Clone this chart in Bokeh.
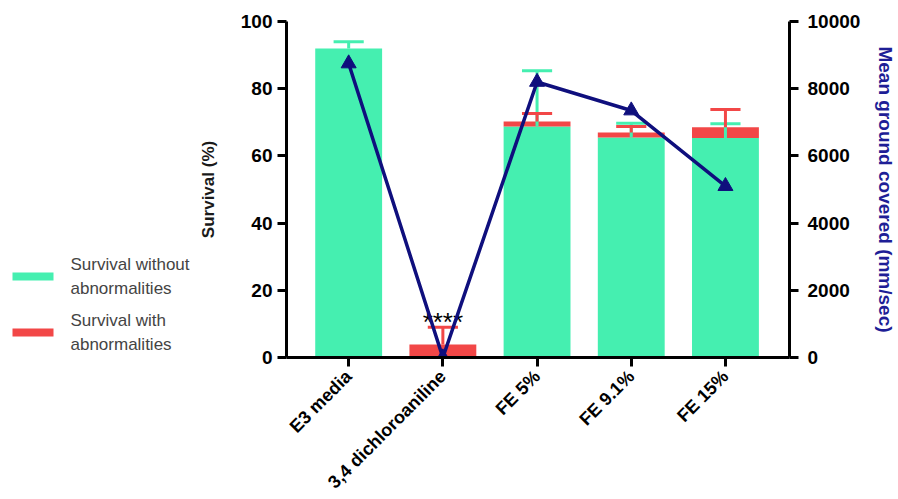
from bokeh.plotting import figure
from bokeh.layouts import row
from bokeh.models import Range1d, LinearAxis, FixedTicker, ColumnDataSource
from bokeh.core.properties import value
from bokeh.embed import file_html
from bokeh.resources import INLINE
import math

# ---- data ----
categories = ["E3 media", "3,4 dichloroaniline", "FE 5%", "FE 9.1%", "FE 15%"]
surv_normal = [92.0, 0.0, 68.75, 65.5, 65.3]      # Survival without abnormalities (%)
surv_normal_err = [2.0, 0.0, 16.6, 4.2, 4.3]
surv_abnormal = [0.0, 3.9, 1.5, 1.5, 3.2]         # Survival with abnormalities (%)
surv_abnormal_err = [0.0, 5.1, 2.4, 1.75, 5.3]
ground_covered = [8750, 0, 8200, 7350, 5100]      # Mean ground covered (mm/sec)
left_ticks = [0, 20, 40, 60, 80, 100]
right_ticks = [0, 2000, 4000, 6000, 8000, 10000]
significance = ["", "****", "", "", ""]
legend_labels = ["Survival without\nabnormalities", "Survival with\nabnormalities"]

GREEN = "#45EFB0"
RED = "#F24747"
NAVY = "#0F0F7D"
FONT = "Liberation Sans"

TOP, FRAME_H, BOTTOM = 21, 336, 141
LEG_W = 192

x = list(range(len(categories)))
abn_top = [a + b for a, b in zip(surv_normal, surv_abnormal)]

src = ColumnDataSource(dict(
    x=x, normal=surv_normal, abn_bottom=surv_normal, abn_top=abn_top,
    n_err_top=[v + e for v, e in zip(surv_normal, surv_normal_err)],
    a_err_top=[v + e for v, e in zip(abn_top, surv_abnormal_err)],
    cap_l=[i - 0.16 for i in x], cap_r=[i + 0.16 for i in x],
    ground=ground_covered,
))

p = figure(frame_width=503, frame_height=FRAME_H,
           x_range=Range1d(-0.66, 4.68), y_range=Range1d(0, 100),
           output_backend="svg", toolbar_location=None,
           min_border_left=286 - LEG_W, min_border_right=106,
           min_border_top=TOP, min_border_bottom=BOTTOM)
p.extra_y_ranges = {"y2": Range1d(0, 10000)}
p.grid.visible = False
p.outline_line_color = None

# bars
bw = 0.71
p.vbar(x="x", top="normal", bottom=0, width=bw, source=src,
       fill_color=GREEN, line_color=None)
p.vbar(x="x", top="abn_top", bottom="abn_bottom", width=bw, source=src,
       fill_color=RED, line_color=None)

# error bars (green from green top, red from stack top)
ng = [i for i, e in enumerate(surv_normal_err) if e > 0]
na = [i for i, e in enumerate(surv_abnormal_err) if e > 0]
sub_g = ColumnDataSource({k: [src.data[k][i] for i in ng] for k in src.data})
sub_a = ColumnDataSource({k: [src.data[k][i] for i in na] for k in src.data})
p.segment(x0="x", y0="normal", x1="x", y1="n_err_top", source=sub_g,
          line_color=GREEN, line_width=3)
p.segment(x0="cap_l", y0="n_err_top", x1="cap_r", y1="n_err_top", source=sub_g,
          line_color=GREEN, line_width=3)
p.segment(x0="x", y0="abn_top", x1="x", y1="a_err_top", source=sub_a,
          line_color=RED, line_width=3)
p.segment(x0="cap_l", y0="a_err_top", x1="cap_r", y1="a_err_top", source=sub_a,
          line_color=RED, line_width=3)

# significance stars
star_src = ColumnDataSource(dict(
    x=[x[i] for i, s in enumerate(significance) if s],
    y=[src.data["a_err_top"][i] + 1.7 for i, s in enumerate(significance) if s],
    t=[s for s in significance if s]))
p.text(x="x", y="y", text="t", source=star_src, text_align="center",
       text_baseline="alphabetic", text_font=value(FONT), text_font_size="26px",
       text_color="black")

# ground covered line
p.line(x="x", y="ground", source=src, y_range_name="y2", line_color=NAVY,
       line_width=3.5)
p.scatter(x="x", y="ground", source=src, y_range_name="y2", marker="triangle",
          size=15, fill_color=NAVY, line_color=NAVY)

# axes
def style_axis(ax):
    ax.axis_line_width = 3
    ax.axis_line_color = "black"
    ax.major_tick_line_width = 3
    ax.major_tick_out = 9
    ax.major_tick_in = 0
    ax.minor_tick_line_color = None
    ax.major_label_text_font = FONT
    ax.major_label_text_font_style = "bold"
    ax.major_label_text_font_size = "19px"
    ax.major_label_text_color = "black"
    ax.axis_label_text_font = FONT
    ax.axis_label_text_font_style = "bold"
    ax.axis_label_text_color = "#1a1a1a"

yl = p.yaxis[0]
yl.ticker = FixedTicker(ticks=left_ticks)
yl.axis_label = "Survival (%)"
style_axis(yl)
yl.major_label_standoff = 5
yl.axis_label_text_font_size = "17px"
yl.axis_label_standoff = 20

yr = LinearAxis(y_range_name="y2", ticker=FixedTicker(ticks=right_ticks),
                axis_label="Mean ground covered (mm/sec)")
style_axis(yr)
yr.major_label_standoff = 9
yr.axis_label_standoff = 12
yr.axis_label_text_font_size = "19px"
yr.axis_label_text_color = "#1E1E96"
p.add_layout(yr, "right")

xa = p.xaxis[0]
xa.ticker = FixedTicker(ticks=x)
xa.major_label_overrides = {i: c for i, c in zip(x, categories)}
style_axis(xa)
xa.major_label_text_font_size = "18px"
xa.major_label_orientation = math.pi / 4
xa.major_label_standoff = 7

# legend drawn in its own panel to the left (pixel coordinates, top-down,
# frame aligned with the main plot's frame)
lg = figure(frame_width=LEG_W, frame_height=FRAME_H,
            x_range=Range1d(0, LEG_W), y_range=Range1d(TOP + FRAME_H, TOP),
            output_backend="svg", toolbar_location=None,
            min_border_left=0, min_border_right=0,
            min_border_top=TOP, min_border_bottom=BOTTOM)
lg.axis.visible = False
lg.grid.visible = False
lg.outline_line_color = None
leg_rows = [276, 332]
lg.rect(x=[32.5] * 2, y=leg_rows, width=41, height=8,
        fill_color=[GREEN, RED], line_color=None)
lg.text(x=[70] * 2, y=leg_rows, text=legend_labels, text_align="left",
        text_baseline="middle", text_font=value(FONT), text_font_size="17px",
        text_color="#444444", text_line_height=1.3)

layout = row(lg, p)
open("out.html", "w").write(file_html(layout, INLINE))
